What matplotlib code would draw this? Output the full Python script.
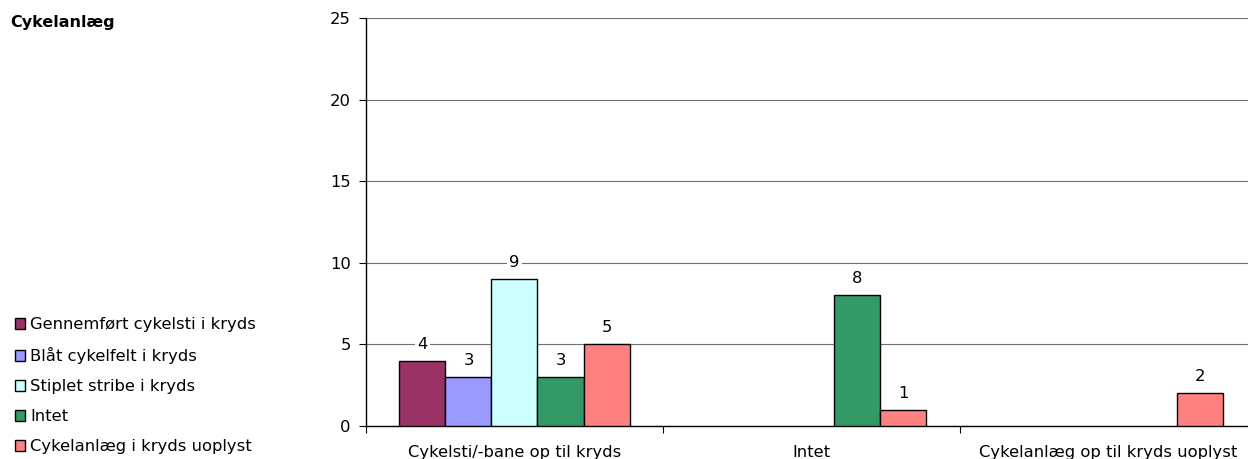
import numpy as np
import matplotlib
matplotlib.use("Agg")
import matplotlib.pyplot as plt
from matplotlib.patches import Patch

# Data
categories = ["Cykelsti/-bane op til kryds", "Intet", "Cykelanlæg op til kryds uoplyst"]
series_names = ["Gennemført cykelsti i kryds", "Blåt cykelfelt i kryds",
                "Stiplet stribe i kryds", "Intet", "Cykelanlæg i kryds uoplyst"]
gennemfoert = [4, np.nan, np.nan]
blaat = [3, np.nan, np.nan]
stiplet = [9, np.nan, np.nan]
intet = [3, 8, np.nan]
uoplyst = [5, 1, 2]
colors = ["#993366", "#9999FF", "#CCFFFF", "#339966", "#FF8080"]

plt.rcParams['font.family'] = ['DejaVu Sans']
fs = 11.8

fig = plt.figure(figsize=(12.48, 4.59), dpi=100)
ax = fig.add_axes([0.2933, 0.0719, 0.7137, 0.8889])

x = np.arange(len(categories))
width = 0.155
all_series = [gennemfoert, blaat, stiplet, intet, uoplyst]
for i, (vals, col) in enumerate(zip(all_series, colors)):
    pos = x + (i - 2) * width
    ax.bar(pos, vals, width, color=col, edgecolor="black", linewidth=1, zorder=3)
    for px, v in zip(pos, vals):
        if not np.isnan(v):
            ax.annotate(f"{int(v)}", (px, v), xytext=(0, 12), textcoords="offset points",
                        ha="center", va="center", fontsize=fs,
                        bbox=dict(facecolor="white", edgecolor="none", pad=1.5), zorder=4)

ax.set_xlim(-0.5, 2.5)
ax.set_ylim(0, 25)
ax.set_yticks([0, 5, 10, 15, 20, 25])
ax.yaxis.grid(True, color="#707070", linewidth=0.8, zorder=0)
ax.set_axisbelow(True)
for s in ["top", "right"]:
    ax.spines[s].set_visible(False)
ax.spines["left"].set_linewidth(1)
ax.spines["bottom"].set_linewidth(1)

ax.set_xticks([-0.5, 0.5, 1.5])
ax.set_xticklabels([])
ax.set_xticks(x, minor=True)
ax.set_xticklabels(categories, minor=True, fontsize=fs)
ax.tick_params(axis="x", which="minor", length=0, pad=14)
ax.tick_params(axis="x", which="major", length=5, direction="out")
ax.tick_params(axis="y", length=5, direction="out", labelsize=fs, pad=6)

fig.text(0.008, 0.95, "Cykelanlæg", fontsize=11.5, fontweight="bold", va="center")

handles = [Patch(facecolor=c, edgecolor="black", linewidth=1) for c in colors]
fig.legend(handles, series_names, loc="lower left", bbox_to_anchor=(0.003, -0.015),
           frameon=False, fontsize=fs, handlelength=0.6, handleheight=0.6,
           handletextpad=0.3, labelspacing=0.92, borderpad=0.2)

fig.savefig("out.png", dpi=100)
